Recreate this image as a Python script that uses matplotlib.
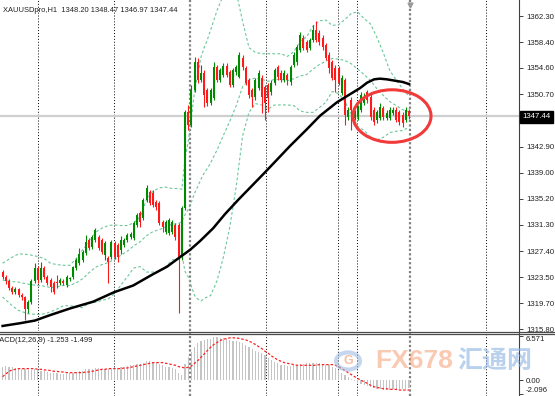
import numpy as np
import matplotlib
matplotlib.use("Agg")
import matplotlib.pyplot as plt
from matplotlib.patches import Ellipse, Rectangle, Circle
from matplotlib.lines import Line2D

plt.rcParams['font.family'] = ['Liberation Sans', 'DejaVu Sans']

# ---- data (XAUUSD H1) ----
opens = [1324.3, 1323.6, 1323.0, 1321.9, 1321.3, 1321.8, 1320.9, 1320.6, 1318.8, 1319.9,
         1323.0, 1324.9, 1323.1, 1324.9, 1323.6, 1323.1, 1322.7, 1322.8, 1322.7, 1323.0,
         1322.4, 1323.3, 1323.6, 1324.9, 1325.6, 1326.1, 1327.1, 1329.1, 1328.0, 1329.1,
         1329.5, 1329.1, 1326.8, 1326.4, 1326.5, 1328.6, 1328.3, 1327.6, 1328.3, 1329.1,
         1329.5, 1329.3, 1331.3, 1333.1, 1332.3, 1335.0, 1336.2, 1336.0, 1334.7, 1334.5,
         1331.7, 1330.3, 1330.1, 1330.3, 1331.3, 1331.3, 1326.5, 1333.8, 1348.1, 1346.1,
         1351.3, 1355.5, 1352.8, 1353.8, 1351.3, 1349.4, 1350.1, 1354.7, 1352.8, 1353.5,
         1354.9, 1354.0, 1352.1, 1354.0, 1353.2, 1356.1, 1354.6, 1352.8, 1351.3, 1350.3,
         1351.6, 1353.1, 1351.8, 1352.1, 1351.0, 1352.4, 1354.7, 1353.8, 1352.8, 1353.5,
         1352.5, 1355.0, 1355.5, 1357.3, 1359.0, 1358.4, 1357.6, 1358.7, 1360.2, 1359.8,
         1359.0, 1358.0, 1356.5, 1355.5, 1354.6, 1354.6, 1350.9, 1352.8, 1347.3, 1349.8,
         1347.2, 1347.3, 1348.3, 1349.4, 1351.0, 1350.3, 1348.3, 1346.9, 1347.2, 1348.6,
         1347.2, 1347.2, 1347.9, 1348.3, 1348.1, 1347.6, 1346.9, 1348.20]
highs = [1324.6, 1323.9, 1323.3, 1322.2, 1322.1, 1321.9, 1321.2, 1320.7, 1320.2, 1323.3,
         1325.6, 1325.2, 1325.8, 1325.2, 1323.9, 1323.4, 1323.0, 1323.9, 1323.4, 1323.3,
         1323.9, 1323.6, 1325.2, 1326.4, 1327.9, 1327.6, 1329.8, 1329.3, 1329.8, 1330.8,
         1329.8, 1329.3, 1328.9, 1326.7, 1329.1, 1328.9, 1328.6, 1329.6, 1329.3, 1330.1,
         1330.3, 1331.9, 1333.1, 1333.4, 1335.3, 1337.2, 1336.5, 1336.5, 1335.0, 1334.8,
         1332.0, 1332.0, 1332.3, 1332.0, 1331.6, 1331.6, 1334.1, 1348.3, 1349.1, 1352.1,
         1356.2, 1356.1, 1355.0, 1354.3, 1351.6, 1351.6, 1355.5, 1355.0, 1354.6, 1355.3,
         1355.3, 1354.3, 1354.6, 1355.0, 1357.0, 1356.5, 1354.9, 1353.1, 1351.6, 1353.1,
         1354.3, 1353.5, 1352.1, 1352.4, 1352.8, 1354.6, 1355.0, 1354.3, 1354.3, 1353.8,
         1355.0, 1357.0, 1358.0, 1359.9, 1359.5, 1358.7, 1359.0, 1361.0, 1361.6, 1360.2,
         1359.5, 1358.3, 1357.0, 1355.8, 1355.0, 1354.9, 1353.5, 1353.1, 1348.8, 1350.3,
         1348.3, 1349.1, 1351.0, 1350.9, 1351.3, 1351.0, 1348.8, 1348.3, 1349.4, 1348.9,
         1348.3, 1348.8, 1348.8, 1348.8, 1348.3, 1348.1, 1348.8, 1348.47]
lows = [1323.3, 1322.5, 1321.6, 1321.0, 1321.0, 1320.6, 1320.2, 1317.2, 1318.2, 1319.6,
        1322.7, 1322.7, 1322.8, 1323.3, 1322.4, 1321.3, 1321.0, 1321.9, 1322.4, 1322.4,
        1322.1, 1323.0, 1323.3, 1324.6, 1325.4, 1325.8, 1326.8, 1327.6, 1327.7, 1328.8,
        1327.6, 1327.0, 1326.1, 1322.7, 1326.2, 1326.2, 1325.8, 1327.0, 1328.0, 1328.8,
        1329.2, 1329.1, 1331.0, 1331.0, 1332.0, 1334.7, 1334.3, 1333.9, 1333.5, 1331.3,
        1330.3, 1330.0, 1329.8, 1330.0, 1329.1, 1318.2, 1326.1, 1333.5, 1345.4, 1345.8,
        1351.0, 1352.4, 1352.5, 1348.8, 1348.9, 1349.1, 1349.8, 1352.5, 1352.5, 1353.2,
        1353.2, 1351.8, 1351.8, 1353.5, 1353.1, 1354.3, 1352.1, 1350.1, 1348.8, 1349.8,
        1351.3, 1347.9, 1346.9, 1348.1, 1350.6, 1352.1, 1352.8, 1352.5, 1352.5, 1352.1,
        1352.1, 1354.7, 1355.0, 1357.0, 1357.3, 1357.0, 1357.3, 1358.4, 1358.4, 1358.0,
        1357.3, 1355.8, 1353.8, 1352.8, 1351.0, 1352.1, 1350.6, 1346.1, 1346.9, 1345.4,
        1346.9, 1346.9, 1348.1, 1349.1, 1349.4, 1346.9, 1346.1, 1346.4, 1346.9, 1346.9,
        1346.9, 1346.9, 1347.6, 1346.6, 1346.1, 1345.8, 1346.6, 1346.97]
closes = [1323.6, 1323.0, 1321.9, 1321.3, 1321.8, 1320.9, 1320.6, 1318.8, 1319.9, 1323.0,
          1324.9, 1323.1, 1324.9, 1323.6, 1322.7, 1322.1, 1321.3, 1322.7, 1323.1, 1322.7,
          1323.6, 1323.4, 1325.0, 1326.1, 1327.0, 1327.3, 1328.8, 1327.9, 1329.5, 1330.5,
          1327.9, 1327.3, 1328.6, 1325.8, 1328.8, 1326.5, 1326.5, 1329.1, 1329.1, 1329.8,
          1330.0, 1331.6, 1332.8, 1331.7, 1335.0, 1336.8, 1334.5, 1334.3, 1333.9, 1331.6,
          1331.0, 1331.7, 1332.0, 1331.7, 1329.5, 1326.5, 1333.8, 1348.1, 1346.1, 1351.3,
          1355.5, 1352.8, 1353.8, 1350.6, 1349.4, 1351.3, 1354.7, 1352.8, 1354.3, 1354.9,
          1353.5, 1352.1, 1354.3, 1354.7, 1356.5, 1354.7, 1352.4, 1350.6, 1350.3, 1352.8,
          1353.8, 1350.3, 1349.4, 1350.1, 1352.4, 1354.3, 1353.2, 1352.8, 1353.8, 1352.8,
          1354.7, 1356.5, 1357.7, 1359.5, 1357.6, 1357.3, 1358.7, 1360.2, 1358.7, 1358.4,
          1357.7, 1356.1, 1354.6, 1353.1, 1352.8, 1352.4, 1353.1, 1347.6, 1348.3, 1348.3,
          1347.9, 1348.8, 1350.6, 1350.3, 1349.8, 1347.3, 1346.6, 1348.1, 1348.8, 1347.3,
          1347.9, 1348.3, 1348.3, 1346.9, 1346.6, 1346.4, 1348.3, 1347.44]

# Bollinger bands (20, 2), sampled along the dashed lines
bb_bar = [0, 3, 5, 8, 11, 13, 15, 17, 19, 21, 23, 25, 27, 29, 31, 33, 35, 37, 39, 41,
          43, 45, 47, 49, 51, 53, 55, 56, 57, 58, 59, 60, 61, 62, 63, 64, 65, 67, 69,
          71, 73, 75, 77, 79, 81, 83, 85, 87, 89, 91, 93, 95, 97, 99, 101, 103, 105,
          107, 109, 111, 113, 115, 117, 119, 121, 123, 125, 127]
bb_mid = [1323.1, 1322.9, 1322.8, 1322.5, 1322.3, 1322.2, 1322.0, 1322.1, 1322.3, 1322.3,
          1322.7, 1323.3, 1324.2, 1325.0, 1325.4, 1325.7, 1326.2, 1326.8, 1327.4, 1328.2,
          1328.8, 1329.7, 1330.3, 1330.6, 1331.0, 1331.4, 1331.5, 1331.8, 1332.8, 1333.6,
          1334.7, 1336.0, 1337.0, 1338.1, 1339.0, 1339.7, 1340.5, 1342.4, 1344.6, 1346.7,
          1349.0, 1351.8, 1352.8, 1353.1, 1352.9, 1352.6, 1352.9, 1352.9, 1352.7, 1353.0,
          1353.4, 1353.6, 1354.4, 1355.1, 1355.6, 1356.0, 1355.9, 1355.7, 1355.2, 1354.4,
          1353.6, 1352.7, 1351.5, 1350.5, 1349.6, 1349.0, 1348.4, 1348.1]
bb_up = [1325.6, 1326.5, 1327.0, 1326.9, 1326.6, 1326.3, 1325.6, 1325.4, 1325.3, 1325.3,
         1326.3, 1327.6, 1328.7, 1330.2, 1330.8, 1331.2, 1331.3, 1331.2, 1331.2, 1331.6,
         1332.5, 1335.1, 1336.3, 1336.8, 1336.9, 1336.7, 1336.7, 1336.6, 1341.2, 1343.6,
         1347.2, 1351.2, 1353.7, 1356.2, 1357.6, 1358.8, 1360.2, 1363.1, 1365.4, 1365.9,
         1365.9, 1361.5, 1357.6, 1356.9, 1356.7, 1356.7, 1356.7, 1356.7, 1356.3, 1357.0,
         1358.6, 1359.2, 1360.8, 1361.6, 1361.7, 1360.9, 1361.0, 1361.8, 1362.7, 1362.9,
         1361.9, 1361.1, 1359.1, 1356.8, 1354.2, 1352.8, 1351.5, 1350.4]
bb_lo = [1320.6, 1319.3, 1318.6, 1318.1, 1318.0, 1318.1, 1318.4, 1318.8, 1319.3, 1319.3,
         1319.2, 1319.0, 1319.7, 1319.8, 1320.1, 1320.3, 1321.1, 1322.4, 1323.6, 1324.9,
         1325.1, 1324.3, 1324.3, 1324.4, 1325.1, 1326.1, 1326.3, 1327.0, 1324.4, 1323.6,
         1322.2, 1320.8, 1320.3, 1320.0, 1320.4, 1320.6, 1320.8, 1323.0, 1326.5, 1331.0,
         1337.0, 1344.5, 1348.0, 1349.3, 1349.1, 1348.5, 1349.1, 1349.1, 1349.1, 1349.0,
         1348.2, 1348.0, 1348.0, 1348.7, 1349.5, 1351.1, 1350.8, 1349.6, 1347.7, 1345.9,
         1345.3, 1344.3, 1343.9, 1344.3, 1345.0, 1345.2, 1345.3, 1345.8]

# long moving average (black line), read along its path
ma_bar = [0, 5.4, 10.1, 14.8, 21.1, 28.3, 34.8, 40.8, 46.7, 51.4, 55.4, 58.6, 61.7,
          65.8, 69.5, 73.6, 82.0, 89.8, 95.1, 99.2, 104.5, 108.6, 111.7, 113.9,
          116.1, 117.9, 120.1, 122.6, 125.1, 127]
ma_val = [1316.3, 1316.7, 1317.1, 1317.9, 1318.9, 1319.9, 1321.3, 1322.3, 1323.9,
          1325.1, 1326.5, 1327.6, 1328.9, 1330.8, 1332.9, 1335.0, 1339.1, 1343.0,
          1345.5, 1347.5, 1349.5, 1350.7, 1351.6, 1352.4, 1352.9, 1353.0, 1352.9,
          1352.7, 1352.5, 1352.2]

macd_main = [2.0, 2.1, 2.0, 1.9, 1.8, 1.8, 1.7, 1.6, 1.5, 1.5,
             1.6, 1.5, 1.4, 1.3, 1.2, 1.1, 1.0, 1.0, 0.9, 0.9,
             0.9, 1.0, 1.1, 1.2, 1.3, 1.4, 1.6, 1.6, 1.7, 1.8,
             1.8, 1.7, 1.7, 1.6, 1.7, 1.7, 1.8, 1.9, 2.0, 2.1,
             2.2, 2.3, 2.4, 2.4, 2.6, 2.8, 2.8, 2.7, 2.6, 2.4,
             2.2, 2.0, 1.9, 1.8, 1.6, 1.0, 0.8, 2.4, 3.4, 4.2,
             4.9, 5.5, 5.9, 6.0, 6.1, 6.2, 6.4, 6.4, 6.3, 6.3,
             6.2, 6.0, 5.9, 5.8, 5.7, 5.5, 5.2, 4.9, 4.6, 4.4,
             4.2, 4.0, 3.7, 3.3, 3.0, 2.7, 2.5, 2.3, 2.2, 2.1,
             2.1, 2.2, 2.3, 2.4, 2.4, 2.5, 2.5, 2.6, 2.5, 2.5,
             2.4, 2.3, 2.2, 2.0, 1.8, 1.5, 1.1, 0.7, 0.4, 0.1,
             -0.2, -0.4, -0.6, -0.8, -0.9, -1.0, -1.2, -1.3, -1.4, -1.5,
             -1.5, -1.5, -1.4, -1.4, -1.4, -1.3, -1.3, -1.253]
macd_signal = [0.5, 0.9, 1.3, 1.5, 1.6, 1.7, 1.7, 1.7, 1.7, 1.7,
               1.7, 1.6, 1.6, 1.5, 1.5, 1.4, 1.3, 1.3, 1.2, 1.2,
               1.1, 1.1, 1.1, 1.1, 1.1, 1.1, 1.2, 1.2, 1.3, 1.4,
               1.5, 1.6, 1.6, 1.7, 1.7, 1.7, 1.7, 1.7, 1.8, 1.8,
               1.9, 2.0, 2.1, 2.2, 2.3, 2.4, 2.5, 2.6, 2.6, 2.6,
               2.6, 2.5, 2.4, 2.3, 2.2, 2.0, 1.9, 1.8, 1.9, 2.1,
               2.5, 2.9, 3.4, 3.9, 4.4, 4.9, 5.3, 5.6, 5.9, 6.1,
               6.2, 6.3, 6.3, 6.3, 6.2, 6.1, 6.0, 5.8, 5.6, 5.3,
               5.0, 4.7, 4.3, 4.0, 3.6, 3.3, 3.0, 2.8, 2.6, 2.5,
               2.4, 2.3, 2.2, 2.2, 2.2, 2.2, 2.2, 2.2, 2.2, 2.3,
               2.3, 2.3, 2.3, 2.3, 2.2, 2.0, 1.7, 1.4, 1.1, 0.8,
               0.5, 0.2, 0.0, -0.3, -0.5, -0.8, -1.0, -1.1, -1.2, -1.3,
               -1.3, -1.4, -1.4, -1.4, -1.5, -1.5, -1.5, -1.499]

price_ticks = [1362.30, 1358.40, 1354.60, 1350.70, 1346.80, 1342.90, 1339.00,
               1335.20, 1331.30, 1327.40, 1323.50, 1319.70, 1315.80]
last_price = 1347.44

# ---- layout (pixel based, MT4 style) ----
W, H = 555, 396
fig = plt.figure(figsize=(W / 100, H / 100), dpi=100)
fig.patch.set_facecolor('white')


def rect(x0, y0, x1, y1):
    return [x0 / W, 1 - y1 / H, (x1 - x0) / W, (y1 - y0) / H]


ax = fig.add_axes(rect(0, 0, 519, 331))
ax2 = fig.add_axes(rect(0, 333, 519, 396))

n = len(closes)
idx = np.arange(n)
o = np.array(opens); c = np.array(closes)
hi = np.array(highs); lo = np.array(lows)


# bar i sits at pixel 2.6 + 3.2*i
def bar_of(px):
    return (px - 2.6) / 3.2


xlim = (bar_of(0), bar_of(519))
for a in (ax, ax2):
    a.set_xlim(*xlim)
    a.set_facecolor('white')
    for s in ('top', 'left', 'bottom'):
        a.spines[s].set_visible(False)
    a.spines['right'].set_color('#404040')
    a.spines['right'].set_linewidth(0.8)
    a.set_xticks([])
    a.yaxis.tick_right()
    a.tick_params(axis='y', length=3, width=0.6, pad=2, labelsize=5.6,
                  colors='#222222')

ax.set_ylim(1315.55, 1364.675)
ax2.set_ylim(-2.39, 7.025)

# vertical grid (thin black dotted, thick grey for day/shift separators)
grid_thin = [38, 114, 266, 338, 357, 486]
grid_thick = [190, 410]
for a in (ax, ax2):
    for g in grid_thin:
        a.axvline(bar_of(g), color='black', lw=0.7, ls=(0, (1, 2)), zorder=1)
    for g in grid_thick:
        a.axvline(bar_of(g), color='#808080', lw=1.6, ls=(0, (1, 1)), zorder=1)

# current price line
ax.axhline(last_price, color='#cfcfcf', lw=1.6, zorder=1)

# Bollinger bands
bb_kw = dict(color='#6cc79a', lw=0.8, ls=(0, (2.5, 2)), zorder=2)
ax.plot(bb_bar, bb_mid, **bb_kw)
ax.plot(bb_bar, bb_up, **bb_kw)
ax.plot(bb_bar, bb_lo, **bb_kw)

# candles
up = c >= o
col = np.where(up, '#008a00', '#ff1a1a')
ax.vlines(idx, lo, hi, colors=col, lw=0.8, zorder=3)
body = np.maximum(np.abs(c - o), 0.12)
ax.bar(idx, body, bottom=np.minimum(o, c), width=0.64, color=col, zorder=4,
       linewidth=0)

# moving average
ax.plot(ma_bar, ma_val, color='black', lw=1.8, zorder=5,
        solid_joinstyle='round')

# highlight ellipse
ax.add_patch(Ellipse((bar_of(392), 1347.45), bar_of(431) - bar_of(353), 7.8,
                     fill=False, ec='#f23a3a', lw=2.2, zorder=6))

# price axis
ax.set_yticks(price_ticks)
ax.set_yticklabels(['%.2f' % v for v in price_ticks])

# MACD
ax2.bar(idx, macd_main, width=0.38, color='#c4c4c4', zorder=2, linewidth=0)
ax2.plot(idx, macd_signal, color='#ff2020', lw=0.9, ls=(0, (2, 1.5)), zorder=3)
ax2.set_yticks([6.571, 0.0, -2.096])
ax2.set_yticklabels(['6.571', '0.00', '-2.096'])
tl = ax2.get_yticklabels()
tl[0].set_va('top')
tl[2].set_va('bottom')

# panel separator
for yy in (331.5, 333.5):
    fig.add_artist(Line2D([0, 1], [1 - yy / H] * 2, transform=fig.transFigure,
                          color='#4a4a4a', lw=0.9))

# texts
fig.text(3 / W, 1 - 11 / H, 'XAUUSDpro,H1  1348.20 1348.47 1346.97 1347.44',
         fontsize=5.4, color='#202020', va='center', ha='left')
fig.text(-7 / W, 1 - 341 / H, 'MACD(12,26,9) -1.253 -1.499',
         fontsize=5.4, color='#202020', va='center', ha='left')

# current price tag
fig.add_artist(Rectangle((520 / W, 1 - 123 / H), 33 / W, 12 / H,
                         transform=fig.transFigure, color='black', zorder=10))
fig.text(536.5 / W, 1 - 117 / H, '%.2f' % last_price, fontsize=5.6,
         color='white', ha='center', va='center', zorder=11)

# chart shift marker
fig.add_artist(Line2D([410 / W], [1 - 5 / H], marker='v', color='#9a9a9a',
                      markersize=3.5, transform=fig.transFigure))

# watermark
fig.add_artist(Circle((348 / W, 1 - 361 / H), 12 / W, transform=fig.transFigure,
                      fill=False, ec='#9fbde3', lw=3, alpha=0.6, zorder=12))
fig.text(348 / W, 1 - 361 / H, 'G', fontsize=9, color='#f2a27a', alpha=0.7,
         ha='center', va='center', fontweight='bold', zorder=12)
fig.text(375 / W, 1 - 361 / H, 'FX678', fontsize=19, color='#f7a57f', alpha=0.6,
         ha='left', va='center', fontweight='bold', zorder=12)
fig.text(457 / W, 1 - 361 / H, '汇通网', fontsize=18, color='#8db3e2', alpha=0.6,
         ha='left', va='center', fontweight='bold', zorder=12,
         family=['Noto Sans CJK SC', 'DejaVu Sans'])

fig.savefig('out.png', dpi=100)
